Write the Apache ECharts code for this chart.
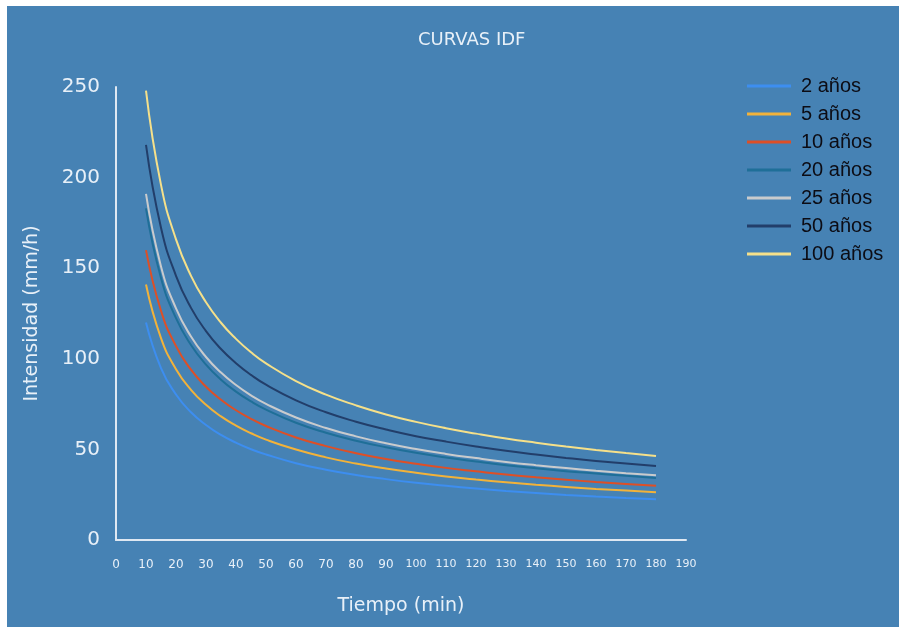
<!DOCTYPE html>
<html>
<head>
<meta charset="utf-8">
<script src="https://cdn.jsdelivr.net/npm/echarts@6/dist/echarts.min.js"></script>
<style>
  html, body { margin: 0; padding: 0; background: #ffffff; }
  #chart { position: absolute; left: 7px; top: 6px; width: 892px; height: 621px; background: #4682b4; }
</style>
</head>
<body>
<div id="chart"></div>
<script>
// Duration (min)
const tiempos = [10, 15, 20, 25, 30, 35, 40, 45, 50, 60, 70, 80, 90, 100, 110, 120, 130, 140, 150, 160, 170, 180];
// Intensity (mm/h) per return period
const i2   = [120, 94.8, 80.3, 70.5, 63.5, 58.0, 53.7, 50.1, 47.2, 42.4, 38.8, 35.9, 33.6, 31.6, 29.9, 28.4, 27.1, 26.0, 24.9, 24.0, 23.2, 22.5];
const i5   = [141, 111.4, 94.3, 82.9, 74.6, 68.2, 63.1, 58.9, 55.4, 49.9, 45.6, 42.2, 39.4, 37.1, 35.1, 33.4, 31.9, 30.5, 29.3, 28.2, 27.3, 26.4];
const i10  = [160, 126.5, 107.0, 94.0, 84.6, 77.4, 71.6, 66.9, 62.9, 56.6, 51.8, 47.9, 44.7, 42.1, 39.8, 37.9, 36.1, 34.6, 33.3, 32.0, 30.9, 29.9];
const i20  = [183, 144.6, 122.4, 107.6, 96.8, 88.5, 81.9, 76.5, 72.0, 64.7, 59.2, 54.8, 51.2, 48.1, 45.5, 43.3, 41.3, 39.6, 38.0, 36.7, 35.4, 34.2];
const i25  = [191, 151.0, 127.8, 112.3, 101.0, 92.4, 85.5, 79.8, 75.1, 67.6, 61.8, 57.2, 53.4, 50.2, 47.5, 45.2, 43.1, 41.3, 39.7, 38.2, 36.9, 35.7];
const i50  = [218, 172.3, 145.8, 128.1, 115.3, 105.4, 97.6, 91.1, 85.7, 77.1, 70.5, 65.3, 61.0, 57.3, 54.3, 51.6, 49.2, 47.2, 45.3, 43.6, 42.2, 40.8];
const i100 = [248, 196.0, 165.9, 145.8, 131.2, 119.9, 111.0, 103.6, 97.5, 87.7, 80.2, 74.3, 69.3, 65.2, 61.7, 58.7, 56.0, 53.7, 51.6, 49.7, 48.0, 46.4];

const seriesNames = ['2 años', '5 años', '10 años', '20 años', '25 años', '50 años', '100 años'];
const seriesValues = [i2, i5, i10, i20, i25, i50, i100];
const seriesColors = ['#3d8ef0', '#f2b23a', '#de4f26', '#1f6f98', '#c9cbcd', '#223e6a', '#f5e08a'];

const textColor = '#e8f0f8';
const chart = echarts.init(document.getElementById('chart'));

const series = seriesNames.map((name, k) => ({
  name: name,
  type: 'line',
  smooth: 0.5,
  symbol: 'none',
  data: tiempos.map((t, j) => [t, seriesValues[k][j]]),
  lineStyle: { width: 2, color: seriesColors[k] },
  itemStyle: { color: seriesColors[k] }
}));

chart.setOption({
  animation: false,
  backgroundColor: '#4682b4',
  title: {
    text: 'CURVAS IDF',
    left: 406,
    top: 20,
    textStyle: { color: textColor, fontSize: 18, fontWeight: 'normal', fontFamily: 'DejaVu Sans' }
  },
  legend: {
    orient: 'vertical',
    left: 735,
    top: 65,
    itemWidth: 44,
    itemHeight: 14,
    itemGap: 8,
    itemStyle: { borderWidth: 0 },
    textStyle: { color: '#0c0c14', fontSize: 20, lineHeight: 20, padding: [0, 0, 0, 5], fontFamily: 'Liberation Sans' },
    data: seriesNames.map(n => ({ name: n, icon: 'path://M0,6 L44,6 L44,9 L0,9 Z' }))
  },
  grid: { left: 109, top: 81, width: 570, height: 453 },
  xAxis: {
    type: 'value',
    min: 0,
    max: 190,
    interval: 10,
    name: 'Tiempo (min)',
    nameLocation: 'middle',
    nameGap: 57,
    nameTextStyle: { color: textColor, fontSize: 19, fontFamily: 'DejaVu Sans' },
    axisLine: { lineStyle: { color: '#dfe8f2', width: 2 } },
    axisTick: { show: false },
    splitLine: { show: false },
    axisLabel: {
      color: textColor,
      fontFamily: 'DejaVu Sans',
      fontSize: 12,
      margin: 19,
      formatter: v => (v >= 100 ? '{s|' + v + '}' : String(v)),
      rich: { s: { fontSize: 11, color: textColor, fontFamily: 'DejaVu Sans' } }
    }
  },
  yAxis: {
    type: 'value',
    min: 0,
    max: 250,
    interval: 50,
    name: 'Intensidad (mm/h)',
    nameLocation: 'middle',
    nameGap: 74,
    nameTextStyle: { color: textColor, fontSize: 19, fontFamily: 'DejaVu Sans' },
    axisLine: { show: true, lineStyle: { color: '#dfe8f2', width: 2 } },
    axisTick: { show: false },
    splitLine: { show: false },
    axisLabel: { color: textColor, fontFamily: 'DejaVu Sans', fontSize: 20, margin: 16 }
  },
  series: series
});
</script>
</body>
</html>
